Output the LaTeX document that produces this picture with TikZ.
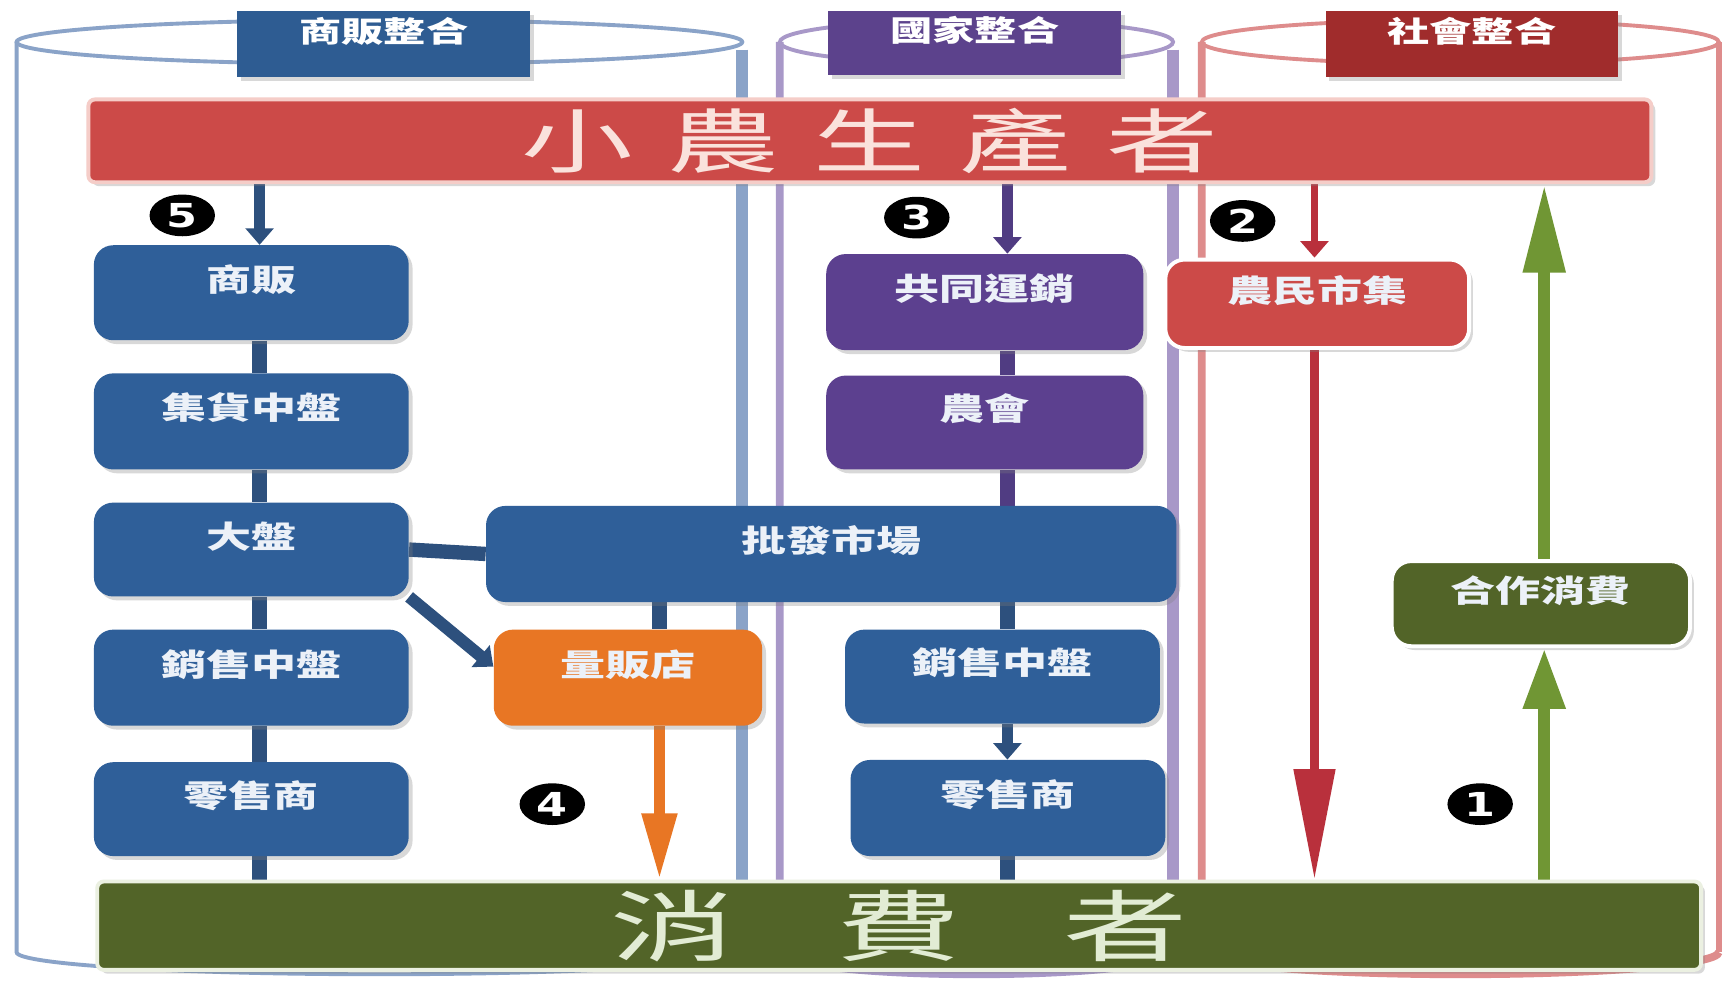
\documentclass[tikz,border=0pt]{standalone}
\usepackage{fontspec}
\usetikzlibrary{arrows.meta,fit,shadows,shapes.geometric}
\newfontfamily\cjk[FakeStretch=1.45]{Noto Sans CJK TC}
\newfontfamily\cjkbig[FakeStretch=1.6]{Noto Sans CJK TC}
\newfontfamily\numfont[FakeStretch=1.35]{DejaVu Sans}
\definecolor{blueBox}{RGB}{47,95,153}
\definecolor{blueDark}{RGB}{45,80,125}
\definecolor{purpleBox}{RGB}{92,64,143}
\definecolor{purpleDark}{RGB}{80,60,130}
\definecolor{redBar}{RGB}{204,74,72}
\definecolor{redHead}{RGB}{160,44,44}
\definecolor{redArrow}{RGB}{185,48,60}
\definecolor{orangeBox}{RGB}{232,118,36}
\definecolor{greenBox}{RGB}{82,100,40}
\definecolor{greenArrow}{RGB}{112,150,52}
\definecolor{headBlue}{RGB}{46,92,146}
\definecolor{headPurple}{RGB}{92,66,140}
\definecolor{cylBlue}{RGB}{138,163,200}
\definecolor{cylPurple}{RGB}{168,152,200}
\definecolor{cylRed}{RGB}{222,140,140}
\definecolor{txtLight}{RGB}{236,241,248}
\definecolor{barTxt}{RGB}{250,226,220}
\definecolor{consTxt}{RGB}{226,236,212}
\pgfdeclarelayer{bg}
\pgfdeclarelayer{mid}
\pgfsetlayers{bg,mid,main}
\begin{document}
\begin{tikzpicture}[x=0.02cm,y=-0.02cm,
  shade/.style={drop shadow={opacity=0.3,shadow xshift=0.07cm,shadow yshift=-0.07cm}},
  box/.style={rounded corners=0.35cm,inner sep=0pt,text=txtLight,
    font=\cjk\bfseries\fontsize{16}{18}\selectfont,shade},
  head/.style={inner sep=0pt,text=white,font=\cjk\bfseries\fontsize{15}{18}\selectfont,shade},
  conn/.style={line width=0.26cm,draw=blueDark},
  pconn/.style={line width=0.26cm,draw=purpleDark},
  smalltip/.style={-{Triangle[length=0.3cm,width=0.5cm]}},
  badge/.style={ellipse,fill=black,draw=black,line width=1pt,minimum width=1.15cm,
    minimum height=0.72cm,inner sep=0pt,text=white,font=\numfont\bfseries\fontsize{17}{17}\selectfont},
  bartext/.style={inner sep=0pt,anchor=center},
  cylline/.style={line width=2pt}]
\useasboundingbox (0,0) rectangle (1568,894);
\begin{pgfonlayer}{bg}
\fill[white] (0,0) rectangle (1568,894);
% cylinders
\draw[cylline,cylBlue] (343.5,38) ellipse [x radius=328.5, y radius=20];
\draw[cylline,cylBlue] (15,38) -- (15,862) arc[start angle=180,end angle=0,x radius=328.5,y radius=20];
\draw[line width=6pt,cylBlue] (672,45) -- (672,862);
\draw[cylline,cylPurple] (884,38) ellipse [x radius=178, y radius=20];
\draw[line width=4pt,cylPurple] (706,38) -- (706,862) arc[start angle=180,end angle=0,x radius=178,y radius=20];
\draw[line width=6pt,cylPurple] (1062,45) -- (1062,862);
\draw[cylline,cylRed] (1322,38) ellipse [x radius=234, y radius=20];
\draw[line width=4pt,cylRed] (1088,38) -- (1088,862) arc[start angle=180,end angle=0,x radius=234,y radius=20];
\draw[line width=3pt,cylRed] (1556,38) -- (1556,862);
\end{pgfonlayer}

% headers
\node[head,fill=headBlue,fit={(215,10) (480,70)}] (h1) {商販整合};
\node[head,fill=headPurple,fit={(750,10) (1015,68)}] (h2) {國家整合};
\node[head,fill=redHead,fit={(1200,10) (1465,70)}] (h3) {社會整合};

% column coordinates
\coordinate (colA) at (235,0);
\coordinate (colO) at (597,0);
\coordinate (colB) at (912,0);
\coordinate (colC) at (1190,0);
\coordinate (colG) at (1398,0);

% main bars
\node[fill=redBar,draw={rgb,255:red,245;green,205;blue,200},line width=2pt,rounded corners=0.12cm,
  inner sep=0pt,shade,fit={(80,90) (1495,165)}] (prod) {};
\node[bartext,text=barTxt,font=\cjkbig\fontsize{36}{40}\selectfont] (prodtxt) at (prod.center)
  {小\hspace{0.62cm}農\hspace{0.62cm}生\hspace{0.62cm}產\hspace{0.62cm}者};
\node[fill=greenBox,draw={rgb,255:red,235;green,240;blue,225},line width=2pt,rounded corners=0.12cm,
  inner sep=0pt,shade,fit={(88,798) (1540,878)}] (cons) {};
\node[bartext,text=consTxt,font=\cjkbig\fontsize{40}{44}\selectfont] (constxt) at (cons.center)
  {消\hspace{1.85cm}費\hspace{1.85cm}者};

% boxes
\node[box,fill=blueBox,fit={(85,222) (370,308)}] (shang) {商販};
\node[box,fill=blueBox,fit={(85,338) (370,425)}] (jihuo) {集貨中盤};
\node[box,fill=blueBox,fit={(85,455) (370,540)}] (dapan) {大盤};
\node[box,fill=blueBox,fit={(85,570) (370,657)}] (xsa) {銷售中盤};
\node[box,fill=blueBox,fit={(85,690) (370,775)}] (lsa) {零售商};
\node[box,fill=purpleBox,fit={(748,230) (1035,317)}] (gongtong) {共同運銷};
\node[box,fill=purpleBox,fit={(748,340) (1035,425)}] (nonghui) {農會};
\node[box,fill=blueBox,fit={(440,458) (1065,545)}] (pifa) {批發市場};
\node[box,fill=orangeBox,fit={(447,570) (690,657)}] (liangfan) {量販店};
\node[box,fill=blueBox,fit={(765,570) (1050,655)}] (xsb) {銷售中盤};
\node[box,fill=blueBox,fit={(770,688) (1055,775)}] (lsb) {零售商};
\node[box,fill=redBar,draw=white,line width=2pt,fit={(1055,235) (1330,315)}] (nongmin) {農民市集};
\node[box,fill=greenBox,draw=white,line width=2pt,fit={(1260,508) (1530,585)}] (hezuo) {合作消費};

\begin{pgfonlayer}{mid}
% left column
\draw[line width=0.2cm,blueDark,smalltip] (prod.south -| colA) -- (shang.north -| colA);
\draw[conn] (shang.south -| colA) -- (jihuo.north -| colA);
\draw[conn] (jihuo.south -| colA) -- (dapan.north -| colA);
\draw[conn] (dapan.south -| colA) -- (xsa.north -| colA);
\draw[conn] (xsa.south -| colA) -- (lsa.north -| colA);
\draw[conn] (lsa.south -| colA) -- (cons.north -| colA);
\draw[conn] (dapan.east) -- (pifa.west);
\draw[line width=0.22cm,blueDark,smalltip] (dapan.south east) -- ([yshift=0.2cm]liangfan.west);
\draw[conn] (pifa.south -| colO) -- (liangfan.north -| colO);
\draw[line width=0.2cm,orangeBox,-{Triangle[length=1.2cm,width=0.6cm]}] (liangfan.south -| colO) -- (cons.north -| colO);
% middle column
\draw[line width=0.2cm,purpleDark,smalltip] (prod.south -| colB) -- (gongtong.north -| colB);
\draw[pconn] (gongtong.south -| colB) -- (nonghui.north -| colB);
\draw[pconn] (nonghui.south -| colB) -- (pifa.north -| colB);
\draw[conn] (pifa.south -| colB) -- (xsb.north -| colB);
\draw[line width=0.2cm,blueDark,smalltip] (xsb.south -| colB) -- (lsb.north -| colB);
\draw[conn] (lsb.south -| colB) -- (cons.north -| colB);
% right column
\draw[line width=0.14cm,redArrow,smalltip] (prod.south -| colC) -- (nongmin.north -| colC);
\draw[line width=0.16cm,redArrow,-{Triangle[length=2cm,width=0.72cm]}] (nongmin.south -| colC) -- (cons.north -| colC);
\draw[line width=0.22cm,greenArrow,-{Triangle[length=1.1cm,width=0.72cm]}] (cons.north -| colG) -- (hezuo.south -| colG);
\draw[line width=0.22cm,greenArrow,-{Triangle[length=1.6cm,width=0.72cm]}] (hezuo.north -| colG) -- (prod.south -| colG);
\end{pgfonlayer}

% badges
\node[badge] (n5) at (165,195) {5};
\node[badge] (n3) at (830,197) {3};
\node[badge] (n2) at (1125,200) {2};
\node[badge] (n4) at (500,728) {4};
\node[badge] (n1) at (1340,728) {1};
\end{tikzpicture}
\end{document}
